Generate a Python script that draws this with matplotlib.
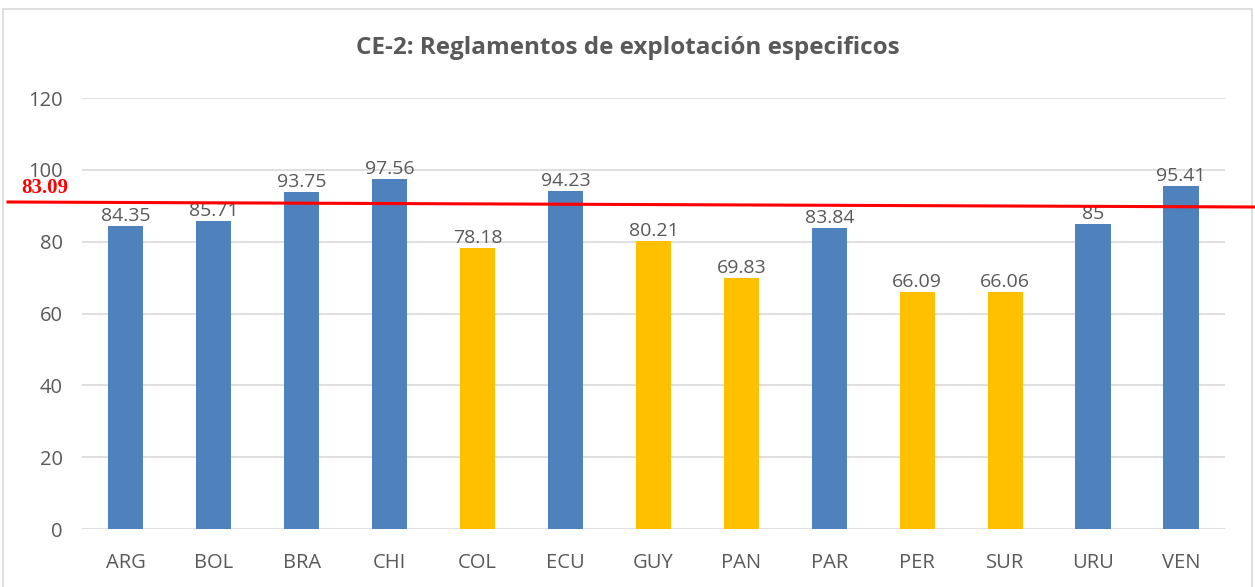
import matplotlib.pyplot as plt
from matplotlib.patches import Rectangle

# Data
paises = ['ARG', 'BOL', 'BRA', 'CHI', 'COL', 'ECU', 'GUY', 'PAN', 'PAR', 'PER', 'SUR', 'URU', 'VEN']
valores = [84.35, 85.71, 93.75, 97.56, 78.18, 94.23, 80.21, 69.83, 83.84, 66.09, 66.06, 85, 95.41]
bajo_promedio = ['COL', 'GUY', 'PAN', 'PER', 'SUR']
promedio = 83.09
yticks = [0, 20, 40, 60, 80, 100, 120]

AZUL = '#4F81BD'
AMARILLO = '#FFC000'
GRIS = '#595959'

fig = plt.figure(figsize=(12.55, 5.87), dpi=100)
ax = fig.add_axes([0.0653, 0.0988, 0.9107, 0.7342])

colores = [AMARILLO if p in bajo_promedio else AZUL for p in paises]
x = range(len(paises))
bars = ax.bar(x, valores, width=0.4, color=colores, zorder=3)

for xi, v in zip(x, valores):
    ax.text(xi, v + 0.3, f'{v:g}', ha='center', va='bottom', fontsize=14,
            color=GRIS, family='Open Sans', zorder=4)

ax.set_xlim(-0.5, len(paises) - 0.5)
ax.set_ylim(0, 120)
ax.set_yticks(yticks)
ax.set_xticks(list(x))
ax.set_xticklabels(paises)
ax.tick_params(axis='both', length=0, labelsize=14.5, labelcolor=GRIS)
ax.tick_params(axis='x', pad=17)
ax.tick_params(axis='y', pad=14)
for lbl in ax.get_xticklabels() + ax.get_yticklabels():
    lbl.set_family('Open Sans')
ax.grid(axis='y', color='#D9D9D9', linewidth=1.2, zorder=0)
for s in ax.spines.values():
    s.set_visible(False)

fig.text(0.5, 1 - 48 / 587, 'CE-2: Reglamentos de explotación especificos', fontsize=17.5,
         fontweight='bold', color=GRIS, family='Open Sans', ha='center', va='center')

# Red reference line (drawn over the chart in figure coords)
fig.add_artist(plt.Line2D([8 / 1255, 1.0], [1 - 202 / 587, 1 - 207 / 587],
                          transform=fig.transFigure, color='red', linewidth=2.2, zorder=10))
fig.text(21 / 1255, 1 - 188 / 587, f'{promedio:.2f}', color='red', fontsize=15,
         fontweight='bold', family=['Liberation Serif', 'DejaVu Serif'], va='center', ha='left')

# Chart border
fig.add_artist(Rectangle((3 / 1255, -0.05), 1249 / 1255, 1.05 - 9 / 587,
                         transform=fig.transFigure, fill=False, edgecolor='#D9D9D9', linewidth=1.2))

fig.savefig('out.png', dpi=100)
